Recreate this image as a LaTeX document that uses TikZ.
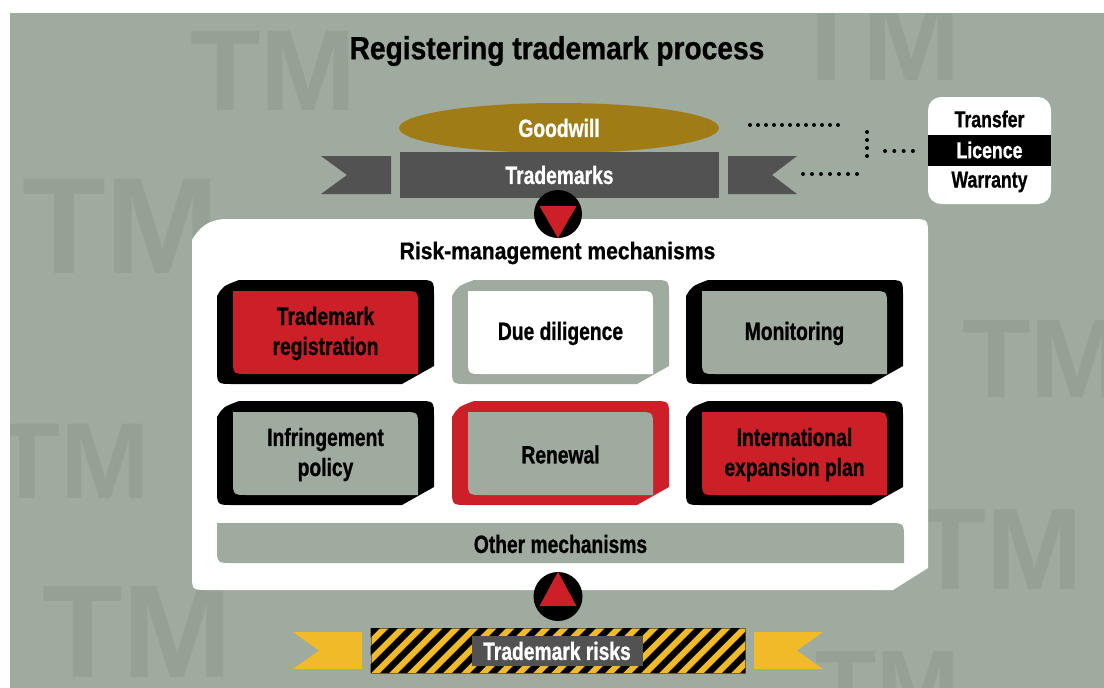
\documentclass[tikz,border=0pt]{standalone}
\usepackage{fontspec}
\setmainfont{Liberation Sans}[FakeStretch=0.77,FakeBold=0.8]
\newfontfamily\headfont{Liberation Sans}[FakeStretch=0.88,FakeBold=0.8]
\newfontfamily\markfont{Liberation Sans}
\usetikzlibrary{shapes.geometric}

\definecolor{bggrey}{RGB}{158,171,158}
\definecolor{markgrey}{RGB}{149,161,149}
\definecolor{gold}{RGB}{160,124,22}
\definecolor{darkgrey}{RGB}{82,82,82}
\definecolor{tmred}{RGB}{204,31,40}
\definecolor{tmyellow}{RGB}{240,186,40}
\definecolor{hazardedge}{RGB}{120,100,40}

\begin{document}
\begin{tikzpicture}[x=1pt,y=-1pt]

        \tikzstyle{every node}=[inner sep=0pt,align=center,font=\bfseries\fontsize{25}{30}\selectfont]
        \tikzstyle{dotline}=[line width=4pt,line cap=round,dash pattern=on 0pt off 8pt]
        \tikzstyle{watermark}=[anchor=base west,text=markgrey]
        \tikzstyle{small}=[font=\bfseries\fontsize{23}{27}\selectfont]

        \useasboundingbox (0,0) rectangle (1104,688);
        \fill[bggrey] (10,13) rectangle (1104,688);

        % big TM letters in the background
        \begin{scope}
            \clip (10,13) rectangle (1104,688);
            \foreach \x / \y / \s [count=\i] in {190/110/115,22/273/137,790/80/118,962/397/112,-6/498/108,42/677/132,915/589/116,815/720/100} {
                \node[watermark,font=\markfont\bfseries\fontsize{\s}{\s}\selectfont] (tm\i) at (\x,\y) {TM};
            }
        \end{scope}

        \node[font=\headfont\bfseries\fontsize{32}{36}\selectfont] (title) at (557,51) {Registering trademark process};

        % ribbon ends behind the trademark bar
        \fill[darkgrey] (321,156) -- (391,156) -- (391,194) -- (321,194) -- (347,175) -- cycle;
        \fill[darkgrey] (797,156) -- (728,156) -- (728,194) -- (797,194) -- (772,175) -- cycle;

        \node[ellipse,fill=gold,minimum width=320,minimum height=50,text=white] (goodwill) at (559,128) {Goodwill};
        \node[fill=darkgrey,minimum width=319,minimum height=46,text=white] (trademarks) at (559.5,175) {Trademarks};

        % transfer / licence / warranty and the dotted links
        \node[fill=white,rounded corners=13,minimum width=123,minimum height=107] (deals) at (989.5,150.5) {};
        \node[small,fill=black,text=white,minimum width=123,minimum height=31] (licence) at (989.5,150) {Licence};
        \node[small] (transfer) at (989.5,119) {Transfer};
        \node[small] (warranty) at (989.5,182) {Warranty};
        \coordinate (gw_dots) at (750,125);
        \coordinate (tm_dots) at (803,174);
        \coordinate (join) at (867,132);
        \coordinate (deal_dots) at (885,151);
        \draw[dotline] (gw_dots) -- ++(88,0);
        \draw[dotline,dash pattern=on 0pt off 9pt] (tm_dots) -- ++(54,0);
        \draw[dotline] (join) -- ++(0,24.5);
        \draw[dotline,dash pattern=on 0pt off 9.3pt] (deal_dots) -- ++(28.5,0);

        % white panel with the mechanisms
        \fill[white] (192,240) .. controls (200,226) and (210,219) .. (228,219) -- (911,219) .. controls (928,219) .. (928,236) -- (928,568) -- (893,590) -- (208,590) .. controls (192,590) .. (192,574) -- cycle;
        \node[font=\headfont\bfseries\fontsize{24}{28}\selectfont] (risk_head) at (557.5,253) {Risk-management mechanisms};

        \foreach \n / \x / \y / \rim / \core / \txt in {1/217/280/black/tmred/{Trademark\\registration},2/452/280/bggrey/white/{Due diligence},3/686/280/black/bggrey/Monitoring,4/217/401/black/bggrey/{Infringement\\policy},5/452/401/tmred/bggrey/Renewal,6/686/401/black/tmred/{International\\expansion plan}} {
            \begin{scope}[shift={(\x,\y)}]
                \fill[\rim] (0,16) .. controls (6,6) .. (22,0) -- (201,0) .. controls (217,0) .. (217,16) -- (217,86) -- (185,104) -- (16,104) .. controls (0,104) .. (0,88) -- cycle;
                \fill[\core] (16,11) -- (186,11) .. controls (201,11) .. (201,26) -- (201,94) -- (31,94) .. controls (16,94) .. (16,79) -- cycle;
                \node (mech\n) at (108.5,53.5) {\txt};
            \end{scope}
        }

        % bar for the remaining mechanisms
        \fill[bggrey] (217,523) -- (888,523) .. controls (904,523) .. (904,539) -- (904,563) -- (233,563) .. controls (217,563) .. (217,547) -- cycle;
        \node (other) at (560.5,544) {Other mechanisms};

        % arrow marks into and out of the panel
        \node[circle,fill=black,minimum size=48] (down) at (558,214) {};
        \fill[tmred] ([shift={(-18.5,-8)}]down.center) -- ([shift={(18.5,-8)}]down.center) -- (down.south) -- cycle;
        \node[circle,fill=black,minimum size=49] (up) at (558,596.5) {};
        \fill[tmred] ([shift={(-18.5,9.5)}]up.center) -- ([shift={(18.5,9.5)}]up.center) -- (up.north) -- cycle;

        % yellow ribbon with hazard stripes
        \fill[tmyellow] (293,632) -- (362,632) -- (362,669) -- (293,669) -- (319,650.5) -- cycle;
        \fill[tmyellow] (823,632) -- (754,632) -- (754,669) -- (823,669) -- (797,650.5) -- cycle;
        \node[fill=tmyellow,draw=hazardedge,line width=0.8pt,minimum width=374,minimum height=45] (hazard) at (558,650.5) {};
        \begin{scope}
            \clip (hazard.south west) rectangle (hazard.north east);
            \foreach \s in {0,18,...,450} {
                \fill (326+\s,673) -- ++(9,0) -- ++(45,-45) -- ++(-9,0) -- cycle;
            }
        \end{scope}
        \node[fill=darkgrey,text=white,minimum width=171,minimum height=30] (risks) at (557,651) {Trademark risks};

\end{tikzpicture}
\end{document}
